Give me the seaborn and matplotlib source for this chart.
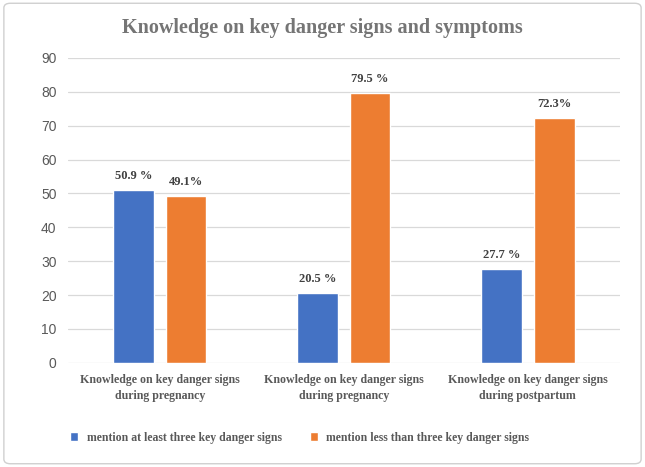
import pandas as pd
import seaborn as sns
import matplotlib.pyplot as plt
from matplotlib.patches import FancyBboxPatch

# data
groups = ["g1", "g2", "g3"]
group_labels = ["Knowledge on key danger signs\nduring pregnancy",
                "Knowledge on key danger signs\nduring pregnancy",
                "Knowledge on key danger signs\nduring postpartum"]
series = ["mention at least three key danger signs",
          "mention less than three key danger signs"]
at_least_three = [50.9, 20.5, 27.7]
less_than_three = [49.1, 79.5, 72.3]
labels_at_least = ["50.9 %", "20.5 %", "27.7 %"]
labels_less = ["49.1%", "79.5 %", "72.3%"]

df = pd.DataFrame({
    "group": groups * 2,
    "series": [series[0]] * 3 + [series[1]] * 3,
    "value": at_least_three + less_than_three,
})

sns.set_style("white")
plt.rcParams['font.family'] = ['Liberation Serif', 'DejaVu Serif']

fig = plt.figure(figsize=(6.45, 4.67), dpi=100)
ax = fig.add_axes([0.105, 0.223, 0.856, 0.653])

palette = {series[0]: "#4472C4", series[1]: "#ED7D31"}
sns.barplot(data=df, x="group", y="value", hue="series", order=groups,
            hue_order=series, palette=palette, width=0.57, gap=0.22,
            saturation=1, ax=ax, legend=True)

ax.set_ylim(0, 90)
ax.set_yticks(range(0, 91, 10))
ax.yaxis.grid(True, color="#D9D9D9", linewidth=0.9)
ax.set_axisbelow(True)
for s in ax.spines.values():
    s.set_visible(False)
ax.tick_params(axis="both", length=0)
ax.set_xlabel("")
ax.set_ylabel("")
for t in ax.get_yticklabels():
    t.set_fontfamily("Liberation Sans")
    t.set_fontsize(10)
    t.set_color("#595959")
ax.tick_params(axis="y", pad=8)
ax.set_xticks(range(len(groups)))
ax.set_xticklabels(group_labels, fontsize=8.6, fontweight="bold",
                   color="#595959", linespacing=1.45)
ax.tick_params(axis="x", pad=8)

for cont, labs in zip(ax.containers, [labels_at_least, labels_less]):
    ax.bar_label(cont, labels=labs, padding=6, fontsize=9,
                 fontweight="bold", color="#404040")

leg = ax.legend(loc="upper center", bbox_to_anchor=(0.42, -0.185), ncol=2,
                frameon=False, handlelength=0.6, handleheight=0.6,
                columnspacing=2.0, handletextpad=0.6)
for t in leg.get_texts():
    t.set_fontsize(8.5)
    t.set_fontweight("bold")
    t.set_color("#595959")

fig.text(0.5, 0.94, "Knowledge on key danger signs and symptoms",
         ha="center", va="center", fontsize=14.5, fontweight="bold",
         color="#757575")

border = FancyBboxPatch((0.006, 0.007), 0.988, 0.986,
                        boxstyle="round,pad=0,rounding_size=0.01",
                        transform=fig.transFigure, fill=False,
                        edgecolor="#D0D0D0", linewidth=1)
fig.patches.append(border)

fig.savefig("out.png", dpi=100)
